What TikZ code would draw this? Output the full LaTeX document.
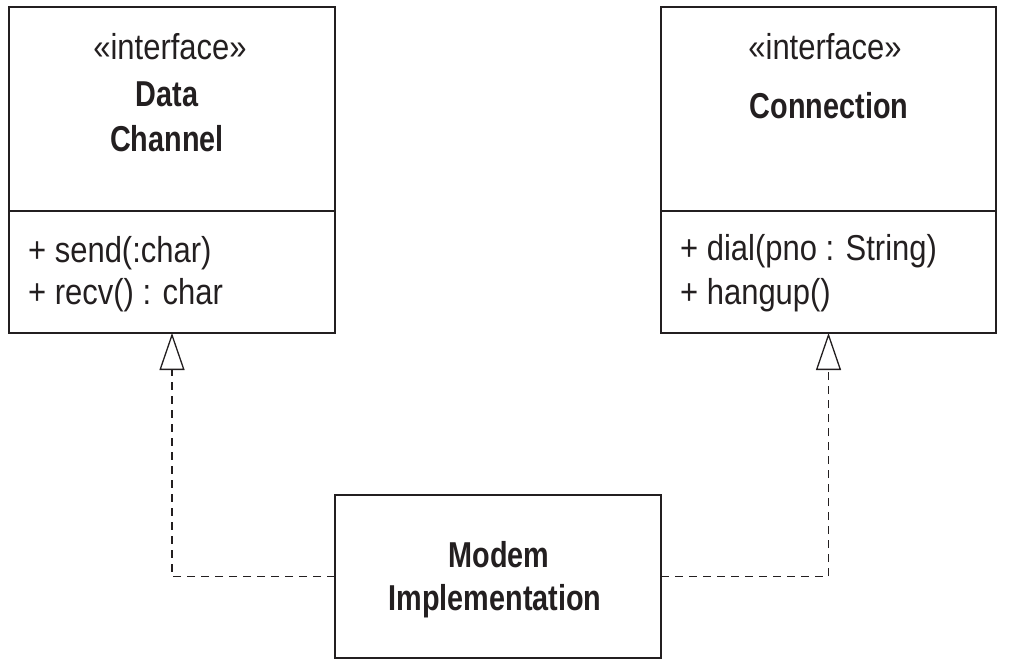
\documentclass[tikz,border=0pt]{standalone}
\usepackage{fontspec}
\setmainfont{Liberation Sans}[FakeStretch=0.86,BoldFeatures={FakeStretch=0.8}]
\usepackage{xcolor}
\usepackage{tikz}
\usetikzlibrary{arrows.meta}
\definecolor{ink}{RGB}{35,31,32}
\tikzset{
	box/.style={draw=ink,line width=1.3pt,inner sep=0pt,outer sep=0pt,anchor=north west},
	txt/.style={text=ink,inner sep=0pt,font=\fontsize{36}{43}\selectfont},
	bold/.style={txt,font=\fontsize{36}{43}\selectfont\bfseries},
	realize/.style={draw=ink,line width=1.3pt,dash pattern=on 8pt off 6pt,
		-{Triangle[open,length=37pt,width=25pt,fill=white]}}
}
\begin{document}
\begin{tikzpicture}[x=1pt,y=-1pt]
	\useasboundingbox (0,0) rectangle (1022,668);
	% Data Channel
	\node[box,minimum width=326pt,minimum height=204pt] (dcHead) at (9,7) {};
	\node[box,minimum width=326pt,minimum height=122pt] (dcOps) at (9,211) {};
	\node[txt,anchor=base] (dcStereo) at (170,60) {«interface»};
	\node[bold,anchor=base] (dcName1) at (167,107) {Data};
	\node[bold,anchor=base] (dcName2) at (167,152) {Channel};
	\node[txt,anchor=base west] (dcSend) at (28,262) {+ send(:char)};
	\node[txt,anchor=base west] (dcRecv) at (28,304) {+ recv() : char};
	% Connection
	\node[box,minimum width=335pt,minimum height=204pt] (cnHead) at (661,7) {};
	\node[box,minimum width=335pt,minimum height=122pt] (cnOps) at (661,211) {};
	\node[txt,anchor=base] (cnStereo) at (825,60) {«interface»};
	\node[bold,anchor=base] (cnName) at (829,119) {Connection};
	\node[txt,anchor=base west] (cnDial) at (680,261) {+ dial(pno : String)};
	\node[txt,anchor=base west] (cnHang) at (680,304) {+ hangup()};
	% Modem Implementation
	\node[box,minimum width=326pt,minimum height=163pt] (modem) at (335,495) {};
	\node[bold,anchor=base] (mdName1) at (499,567) {Modem};
	\node[bold,anchor=base] (mdName2) at (495,610) {Implementation};
	% realizations
	\draw[realize] (modem.west) -| (dcOps.south);
	\draw[realize] (modem.east) -| (cnOps.south);
\end{tikzpicture}
\end{document}
